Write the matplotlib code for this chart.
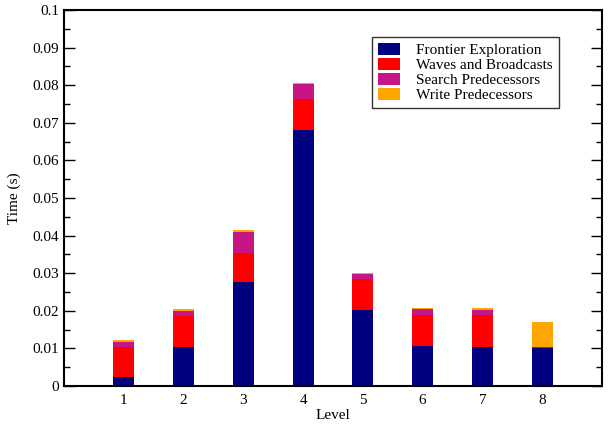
import matplotlib.pyplot as plt
import numpy as np

levels = [1, 2, 3, 4, 5, 6, 7, 8]
frontier = [0.0025, 0.0104, 0.0277, 0.0682, 0.0202, 0.0106, 0.0104, 0.0102]
waves = [0.0078, 0.0083, 0.0078, 0.0081, 0.0082, 0.0084, 0.0085, 0.0002]
search = [0.0015, 0.0012, 0.0055, 0.0039, 0.0014, 0.0014, 0.0013, 0.0]
write = [0.0004, 0.0006, 0.0004, 0.0003, 0.0003, 0.0003, 0.0005, 0.0065]

series = [
    ('Frontier Exploration', frontier, '#000080'),
    ('Waves and Broadcasts', waves, '#ff0000'),
    ('Search Predecessors', search, '#c71585'),
    ('Write Predecessors', write, '#ffa500'),
]

plt.rcParams['font.family'] = ['Liberation Serif', 'DejaVu Serif']

fig = plt.figure(figsize=(6.08, 4.24), dpi=100)
ax = fig.add_axes([64 / 608, 38 / 424, 538 / 608, 376 / 424])

bottom = np.zeros(len(levels))
for name, vals, col in series:
    ax.bar(levels, vals, width=0.35, bottom=bottom, color=col,
           edgecolor='none', label=name)
    bottom += np.array(vals)

ax.set_xlim(0, 9)
ax.set_ylim(0, 0.1)
ax.set_xticks(levels)
ax.set_yticks(np.arange(0, 0.101, 0.01))
ax.set_yticklabels(['0', '0.01', '0.02', '0.03', '0.04', '0.05', '0.06',
                    '0.07', '0.08', '0.09', '0.1'])
ax.set_yticks(np.arange(0.005, 0.1, 0.01), minor=True)
ax.tick_params(axis='x', length=0, labelsize=11, pad=6)
ax.tick_params(axis='y', which='major', direction='in', length=8,
               right=True, labelsize=11, width=1)
ax.tick_params(axis='y', which='minor', direction='in', length=4,
               right=True, width=1)
for s in ax.spines.values():
    s.set_linewidth(1.5)

ax.set_xlabel('Level', fontsize=11, labelpad=1)
ax.set_ylabel('Time (s)', fontsize=11, labelpad=8)

leg = ax.legend(loc='upper right', bbox_to_anchor=(0.92, 0.928),
                fontsize=11, fancybox=False, framealpha=1,
                edgecolor='#333333', handlelength=1.45, handleheight=0.8,
                handletextpad=1.05, labelspacing=0.05, borderpad=0.4,
                borderaxespad=0)
leg.get_frame().set_linewidth(1.0)

plt.savefig('out.png', dpi=100)
